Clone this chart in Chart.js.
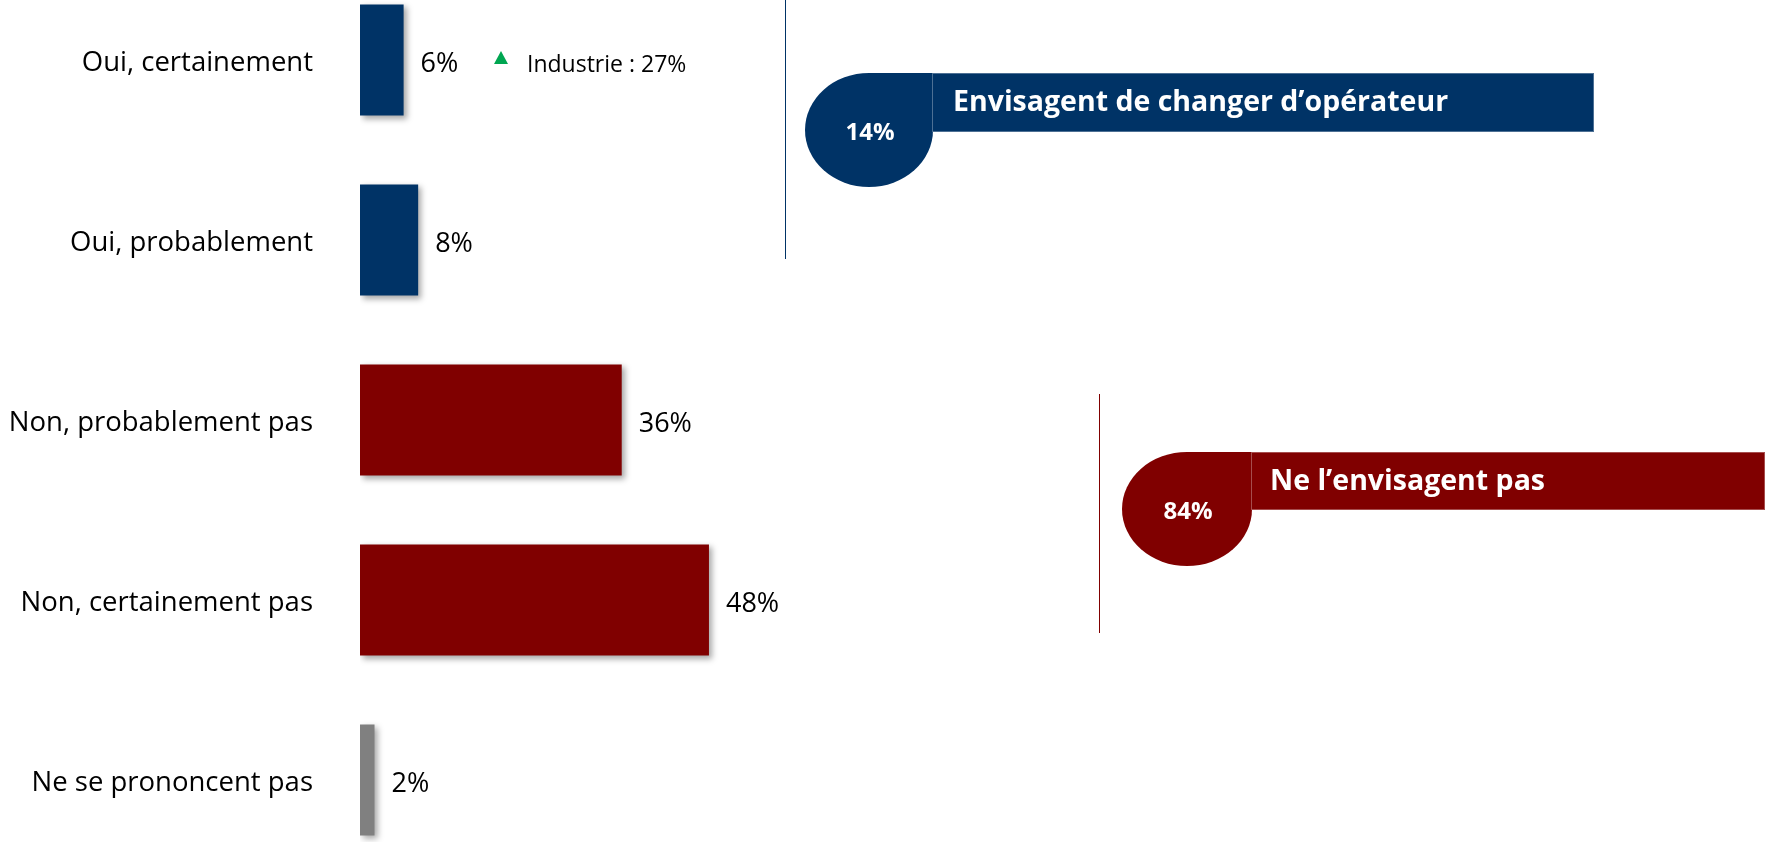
<!DOCTYPE html>
<html>
<head>
<meta charset="utf-8">
<script src="https://cdn.jsdelivr.net/npm/chart.js@4/dist/chart.umd.min.js"></script>
<style>
    html, body { margin: 0; padding: 0; background: #fff; overflow: hidden; width: 1765px; height: 842px; }
    #wrap { position: relative; width: 1765px; height: 842px; overflow: hidden; }
    #myChart { position: absolute; left: 0; top: -30px; }
</style>
</head>
<body>
<div id="wrap"><canvas id="myChart" width="1765" height="900"></canvas></div>
<script>
// answers and shares (%)
var categories = ["Oui, certainement", "Oui, probablement", "Non, probablement pas", "Non, certainement pas", "Ne se prononcent pas"];
var values = [6, 8, 36, 48, 2];
var barColors = ['#003366', '#003366', '#800000', '#800000', '#808080'];

// benchmark next to the first answer
var industryLabel = "Industrie : 27%";

// totals shown on the right
var summaryLabels = ["Envisagent de changer d\u2019opérateur", "Ne l\u2019envisagent pas"];
var summaryValues = [14, 84];
var summaryColors = ['#003366', '#800000'];

var FONT = '"Open Sans", "Liberation Sans", Arial, sans-serif';
var OFF = 30; // canvas is shifted 30px up

// shadow under the bars + value labels
var barDecor = {
    id: 'barDecor',
    beforeDatasetsDraw: function(chart) {
        var c = chart.ctx;
        c.save();
        c.shadowColor = 'rgba(0,0,0,0.35)';
        c.shadowBlur = 6;
        c.shadowOffsetX = 3;
        c.shadowOffsetY = 3;
    },
    afterDatasetsDraw: function(chart) {
        var c = chart.ctx;
        c.restore();
        var meta = chart.getDatasetMeta(0);
        c.save();
        c.fillStyle = '#000';
        c.font = '27px ' + FONT;
        c.textBaseline = 'middle';
        c.textAlign = 'left';
        meta.data.forEach(function(bar, i) {
            c.fillText(values[i] + '%', bar.x + 17, bar.y + 4);
        });
        // industry benchmark
        var b0 = meta.data[0];
        var tx = 501, ty = b0.y - 2;
        c.fillStyle = '#00a651';
        c.beginPath();
        c.moveTo(tx, ty - 7);
        c.lineTo(tx + 7, ty + 6);
        c.lineTo(tx - 7, ty + 6);
        c.closePath();
        c.fill();
        c.fillStyle = '#000';
        c.font = '23px ' + FONT;
        c.fillText(industryLabel, 527, b0.y + 5);
        c.restore();
    }
};

// summary badges on the right
var summaries = {
    id: 'summaries',
    afterDraw: function(chart) {
        var c = chart.ctx;
        var boxes = [
            { line: [785, 0, 259], cx: 869, cy: 130, rx: 64, ry: 57, top: 73, h: 59, right: 1594, tx: 953 },
            { line: [1099, 394, 633], cx: 1187, cy: 509, rx: 65, ry: 57, top: 452, h: 58, right: 1765, tx: 1270 }
        ];
        c.save();
        boxes.forEach(function(b, i) {
            var col = summaryColors[i];
            c.strokeStyle = col;
            c.lineWidth = 1;
            c.beginPath();
            c.moveTo(b.line[0] + 0.5, b.line[1] + OFF);
            c.lineTo(b.line[0] + 0.5, b.line[2] + OFF);
            c.stroke();

            c.fillStyle = col;
            c.beginPath();
            c.ellipse(b.cx, b.cy + OFF, b.rx, b.ry, 0, 0, Math.PI * 2);
            c.fill();
            c.fillRect(b.cx, b.top + OFF, b.rx, b.ry);
            c.fillRect(b.cx, b.top + OFF, b.right - b.cx, b.h);
            c.strokeStyle = 'rgba(255,255,255,0.3)';
            c.strokeRect(b.cx + b.rx - 0.5, b.top + OFF + 0.5, b.right - b.cx - b.rx, b.h - 1);

            c.fillStyle = '#fff';
            c.textBaseline = 'middle';
            c.textAlign = 'center';
            c.font = 'bold 24px ' + FONT;
            c.fillText(summaryValues[i] + '%', b.cx + 1, b.cy + OFF + 3);
            c.textAlign = 'left';
            c.font = 'bold 28.5px ' + FONT;
            c.fillText(summaryLabels[i], b.tx, b.top + OFF + 30);
        });
        c.restore();
    }
};

var ctx = document.getElementById('myChart').getContext('2d');
var chart = new Chart(ctx, {
    type: 'bar',
    data: {
        labels: categories,
        datasets: [{
            data: values,
            backgroundColor: barColors,
            borderWidth: 0,
            barPercentage: 0.617,
            categoryPercentage: 1
        }]
    },
    options: {
        indexAxis: 'y',
        responsive: false,
        animation: false,
        devicePixelRatio: 1,
        layout: { padding: { top: 0, bottom: 0, left: 0, right: 678 } },
        plugins: {
            legend: { display: false },
            tooltip: { enabled: false }
        },
        scales: {
            x: { display: false, min: 0, max: 100 },
            y: {
                grid: { display: false, drawTicks: false },
                border: { display: false },
                afterFit: function(s) {
                    s.width = 360;
                    s.paddingTop = 0;
                    s.paddingBottom = 0;
                },
                ticks: {
                    padding: 47,
                    labelOffset: 3,
                    color: '#000',
                    font: { family: FONT, size: 27.5 }
                }
            }
        }
    },
    plugins: [barDecor, summaries]
});
</script>
</body>
</html>
